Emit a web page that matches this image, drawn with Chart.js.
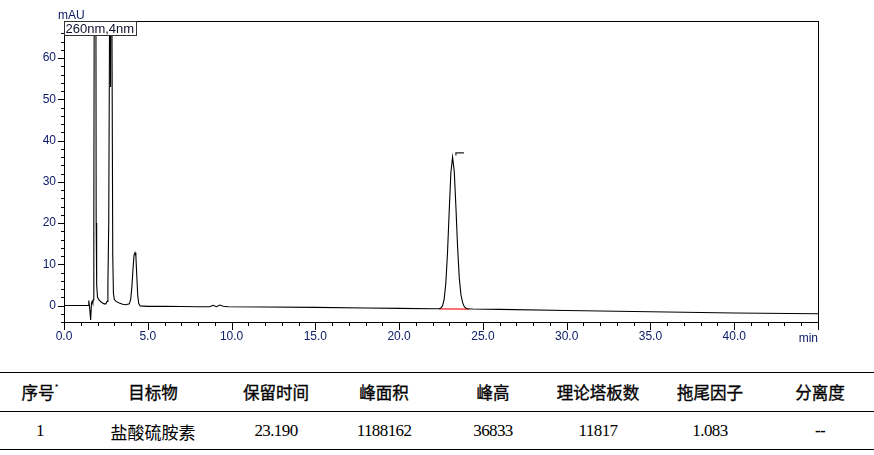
<!DOCTYPE html>
<html lang="zh">
<head>
<meta charset="utf-8">
<title>盐酸硫胺素 色谱图</title>
<script src="https://cdn.jsdelivr.net/npm/chart.js@4.4.1/dist/chart.umd.min.js"></script>
<style>
  html,body{margin:0;padding:0;background:#fff}
  #wrap{position:relative;width:874px;height:455px;overflow:hidden}
  #plot{position:absolute;left:0;top:0;width:874px;height:345px}
  .rule{position:absolute;left:0;width:874px;height:0;border-top:1.5px solid #000}
  .cell{position:absolute;transform:translate(-50%,-50%);white-space:nowrap;color:#000}
  .hd{font:400 16.5px "Noto Sans CJK SC",sans-serif;-webkit-text-stroke:0.35px #000}
  .zh{font:400 17px "Noto Sans CJK SC",serif}
  .num{font:400 17px "Liberation Serif","Times New Roman",serif;letter-spacing:-0.6px}
  sup{font-size:9px;position:relative;top:-2px;-webkit-text-stroke:0}
</style>
</head>
<body>
<div id="wrap">
  <div id="plot"><canvas id="grafico"></canvas></div>
</div>
<script>
// ── DATOS ──
// retention time (min) / signal (mAU)
const rtMin = [
  0, 1.0, 1.45, 1.48, 1.53, 1.59, 1.64, 1.68, 1.72, 1.75, 1.78, 1.81, 1.86, 1.90, 1.92, 1.95,
  2.0, 2.1, 2.2, 2.3, 2.4, 2.5, 2.57, 2.62, 2.67, 2.72, 2.75, 2.78, 2.81, 2.86, 2.91, 2.95,
  3.0, 3.1, 3.3, 3.5, 3.7, 3.9, 3.98, 4.05, 4.12, 4.18, 4.24, 4.29, 4.34, 4.40, 4.46, 4.55,
  5.0, 6.0, 7.0, 8.0, 8.7, 8.9, 9.1, 9.3, 9.5, 9.8, 12.0, 15.0, 18.0, 20.0, 22.0,
  22.39, 22.49, 22.59, 22.69, 22.79, 22.89, 22.99, 23.09, 23.19, 23.29, 23.39, 23.49, 23.59,
  23.69, 23.79, 23.89, 23.99, 24.1, 24.4, 26.0, 30.0, 35.0, 40.0, 45.0
];
const signal = [
  0, 0, 0, 1.2, -0.5, -3.5, 0.6, 1.0, 0.5, 1.4, 20, 90, 200, 90, 20, 5,
  2.0, 1.3, 0.9, 0.6, 0.4, 0.4, 1.0, 5.0, 20, 70, 200, 53, 200, 70, 12, 3.0,
  1.5, 1.0, 0.6, 0.3, 0.2, 0.4, 1.5, 4.5, 9.0, 12.2, 12.8, 12.0, 7.5, 2.5, 0.5, -0.1,
  -0.2, -0.2, -0.25, -0.3, -0.3, 0.05, -0.3, 0.1, -0.2, -0.3, -0.35, -0.45, -0.6, -0.7, -0.8,
  -0.8, -0.63, -0.1, 1.55, 5.5, 12.9, 22.9, 32.2, 36.0, 32.6, 23.9, 14.2, 6.7,
  2.6, 0.7, -0.3, -0.65, -0.8, -0.85, -0.95, -1.2, -1.5, -1.8, -2.0
];
// integration baseline under the main peak
const baseT = [22.39, 24.2];
const baseV = [-0.8, -0.88];
// peak label mark
const markT = [23.39, 23.39, 23.87];
const markV = [36.4, 37.0, 37.0];

const xMin = 0, xMax = 45, xStep = 1, xMajor = 5;
const yMin = -4, yMax = 69, yStep = 2, yMajor = 10;
const xUnit = "min", yUnit = "mAU", canal = "260nm,4nm";

// ── TABLA ──
const encabezados = ["序号", "目标物", "保留时间", "峰面积", "峰高", "理论塔板数", "拖尾因子", "分离度"];
const fila = ["1", "盐酸硫胺素", "23.190", "1188162", "36833", "11817", "1.083", "--"];

const P = { ink:'#000', navy:'#10206a', red:'#ff2020', frame:'#000', box:'#333' };

const pts = (xs, ys) => xs.map((x,i) => ({ x, y: ys[i] }));

/* ── TICKS + MARCO ── */
const marco = {
  id: 'marco',
  afterDraw(chart) {
    const { ctx, chartArea:a, scales:{ x, y } } = chart;
    ctx.save();
    ctx.strokeStyle = P.frame; ctx.lineWidth = 1;
    ctx.strokeRect(Math.round(a.left)+0.5, Math.round(a.top)+0.5, Math.round(a.right-a.left), Math.round(a.bottom-a.top));
    ctx.beginPath();
    x.ticks.forEach(t => {
      if (!Number.isInteger(t.value)) return;
      const px = Math.round(x.getPixelForValue(t.value)) + 0.5;
      const len = t.value % xMajor === 0 ? 8 : 4;
      ctx.moveTo(px, a.bottom); ctx.lineTo(px, a.bottom + len);
    });
    y.ticks.forEach(t => {
      if (t.value % yStep !== 0) return;
      const py = Math.round(y.getPixelForValue(t.value)) + 0.5;
      const len = t.value % yMajor === 0 ? 6 : 3;
      ctx.moveTo(a.left, py); ctx.lineTo(a.left - len, py);
    });
    ctx.stroke();

    // unidades
    ctx.fillStyle = P.navy;
    ctx.font = '12px "Liberation Sans", Arial, sans-serif';
    ctx.textBaseline = 'alphabetic';
    ctx.textAlign = 'left';  ctx.fillText(yUnit, a.left - 6, a.top - 2.5);
    ctx.textAlign = 'right'; ctx.fillText(xUnit, a.right, a.bottom + 19.5);

    // canal
    ctx.font = '13px "Liberation Sans", Arial, sans-serif';
    const w = ctx.measureText(canal).width + 3;
    ctx.fillStyle = '#fff';
    ctx.fillRect(a.left + 0.5, a.top + 0.5, w, 14);
    ctx.strokeStyle = P.box;
    ctx.strokeRect(Math.round(a.left)+0.5, Math.round(a.top)+0.5, Math.round(w), 14);
    ctx.fillStyle = '#101030'; ctx.textAlign = 'left';
    ctx.fillText(canal, a.left + 1.5, a.top + 12);
    ctx.restore();
  }
};

new Chart(document.getElementById('grafico'), {
  type: 'line',
  data: { datasets: [
    { label:'señal', data: pts(rtMin, signal), borderColor:P.ink, borderWidth:1.1, pointRadius:0, tension:0 },
    { label:'base',  data: pts(baseT, baseV),  borderColor:P.red, borderWidth:1.2, pointRadius:0 },
    { label:'marca', data: pts(markT, markV),  borderColor:'#202020', borderWidth:1.2, pointRadius:0 }
  ]},
  options: {
    responsive:true, maintainAspectRatio:false, animation:false, devicePixelRatio:1,
    layout:{ padding:{ left:0, top:21, right:56, bottom:0 } },
    plugins:{ legend:{display:false}, tooltip:{enabled:false} },
    scales:{
      x:{ type:'linear', min:xMin, max:xMax,
        afterFit: s => { s.height = 345 - 322; },
        grid:{ display:false, drawTicks:false }, border:{ display:false },
        ticks:{ stepSize:xStep, autoSkip:false, maxRotation:0, padding:7, color:P.navy,
          font:{ size:12, family:'"Liberation Sans", Arial, sans-serif' },
          callback: v => (v % xMajor === 0 && v !== xMax) ? v.toFixed(1) : '' } },
      y:{ min:yMin, max:yMax,
        afterFit: s => { s.width = 64; },
        grid:{ display:false, drawTicks:false }, border:{ display:false },
        ticks:{ stepSize:yStep, autoSkip:false, padding:8, color:P.navy,
          font:{ size:12, family:'"Liberation Sans", Arial, sans-serif' },
          callback: v => (v % yMajor === 0) ? String(v) : '' } }
    }
  },
  plugins:[marco]
});

/* ── RENDER TABLA ── */
const colX = [40, 153, 276, 384, 493, 598, 710, 820];
const wrap = document.getElementById('wrap');
[372, 411, 449].forEach(top => {
  const r = document.createElement('div'); r.className = 'rule'; r.style.top = top + 'px'; wrap.appendChild(r);
});
encabezados.forEach((h,i) => {
  const s = document.createElement('span'); s.className = 'cell hd';
  s.style.left = colX[i] + 'px'; s.style.top = '392px';
  s.innerHTML = i === 0 ? h + '<sup>*</sup>' : h;
  wrap.appendChild(s);
});
fila.forEach((v,i) => {
  const s = document.createElement('span');
  s.className = 'cell ' + (/[\u4e00-\u9fff]/.test(v) ? 'zh' : 'num');
  s.style.left = colX[i] + 'px'; s.style.top = '431px';
  if (v === '--') s.style.fontWeight = '700';
  s.textContent = v;
  wrap.appendChild(s);
});
</script>
</body>
</html>
